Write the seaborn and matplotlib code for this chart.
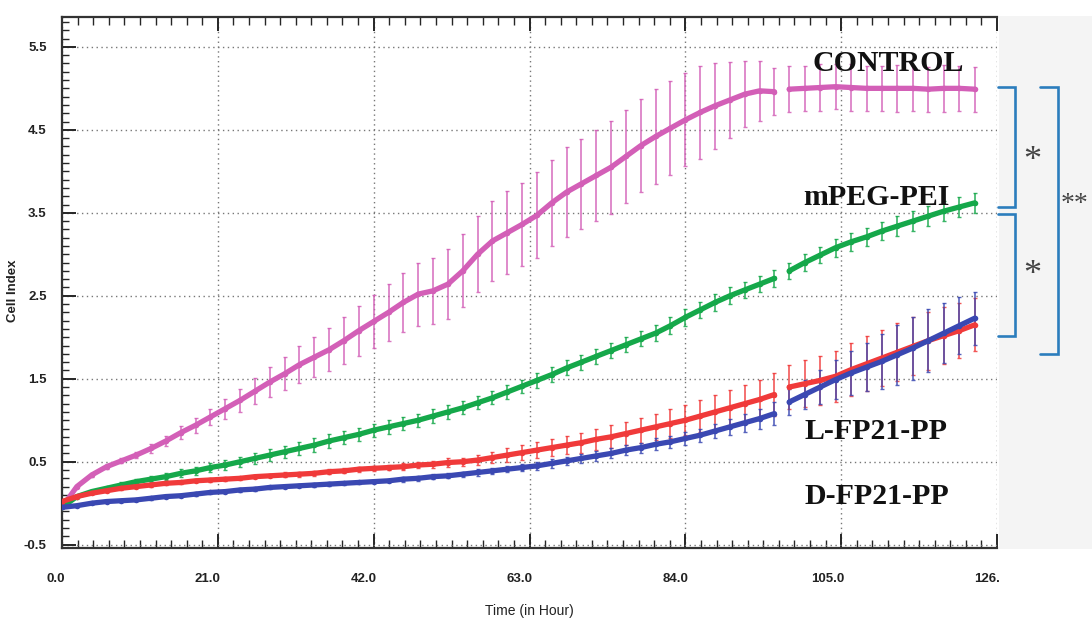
import numpy as np
import pandas as pd
import matplotlib
matplotlib.use("Agg")
import matplotlib.pyplot as plt
import matplotlib.transforms as mtransforms
from matplotlib.ticker import MultipleLocator, FixedLocator
from matplotlib.patches import Rectangle
import seaborn as sns

# ---------------- data ----------------
groups = ["CONTROL", "mPEG-PEI", "L-FP21-PP", "D-FP21-PP"]
colors = ["#d35fb7", "#15a84a", "#f03a3a", "#3a48b2"]

time_seg1 = list(range(0, 97, 2))                 # hours, before medium change
time_seg2 = list(np.linspace(98, 123, 13))         # hours, after medium change

control_mean = [-0.05, 0.20, 0.34, 0.44, 0.51, 0.58, 0.66, 0.75, 0.85, 0.94,
                1.04, 1.14, 1.24, 1.35, 1.46, 1.56, 1.67, 1.76, 1.85, 1.96,
                2.08, 2.19, 2.30, 2.42, 2.52, 2.56, 2.64, 2.80, 3.00, 3.16,
                3.26, 3.36, 3.47, 3.62, 3.75, 3.85, 3.95, 4.05, 4.18, 4.31,
                4.42, 4.52, 4.62, 4.71, 4.79, 4.86, 4.93, 4.97, 4.96,
                4.99, 5.00, 5.01, 5.02, 5.01, 5.00, 5.00, 5.00, 5.00, 4.99, 5.00, 5.00, 4.99]
control_sd = [0.00, 0.01, 0.02, 0.03, 0.03, 0.04, 0.05, 0.06, 0.08, 0.09,
              0.10, 0.12, 0.14, 0.16, 0.18, 0.20, 0.22, 0.24, 0.26, 0.28,
              0.30, 0.32, 0.34, 0.36, 0.38, 0.40, 0.42, 0.44, 0.46, 0.48,
              0.50, 0.50, 0.52, 0.52, 0.54, 0.54, 0.55, 0.56, 0.56, 0.56,
              0.57, 0.57, 0.56, 0.56, 0.52, 0.46, 0.40, 0.36, 0.28,
              0.28, 0.27, 0.28, 0.27, 0.28, 0.27, 0.27, 0.28, 0.27, 0.27, 0.28, 0.27, 0.27]

mpeg_mean = [-0.05, 0.08, 0.14, 0.18, 0.22, 0.26, 0.29, 0.32, 0.36, 0.39,
             0.43, 0.46, 0.50, 0.54, 0.58, 0.62, 0.66, 0.70, 0.75, 0.79,
             0.83, 0.88, 0.92, 0.96, 1.00, 1.05, 1.10, 1.15, 1.21, 1.27,
             1.34, 1.41, 1.48, 1.55, 1.63, 1.70, 1.77, 1.84, 1.91, 1.98,
             2.05, 2.14, 2.24, 2.33, 2.42, 2.50, 2.57, 2.64, 2.71,
             2.80, 2.90, 2.99, 3.08, 3.15, 3.21, 3.28, 3.34, 3.40, 3.46, 3.52, 3.57, 3.62]
mpeg_sd = [0.00, 0.01, 0.02, 0.02, 0.03, 0.03, 0.04, 0.04, 0.05, 0.05,
           0.05, 0.06, 0.06, 0.07, 0.07, 0.07, 0.08, 0.08, 0.08, 0.08,
           0.08, 0.08, 0.08, 0.08, 0.08, 0.08, 0.08, 0.08, 0.08, 0.08,
           0.08, 0.08, 0.09, 0.09, 0.09, 0.09, 0.09, 0.09, 0.09, 0.09,
           0.10, 0.10, 0.10, 0.10, 0.10, 0.10, 0.10, 0.10, 0.10,
           0.10, 0.10, 0.10, 0.11, 0.11, 0.11, 0.11, 0.12, 0.12, 0.12, 0.12, 0.12, 0.12]

lfp_mean = [0.02, 0.08, 0.12, 0.15, 0.18, 0.20, 0.22, 0.24, 0.25, 0.27,
            0.28, 0.29, 0.30, 0.32, 0.33, 0.34, 0.35, 0.36, 0.38, 0.39,
            0.41, 0.42, 0.43, 0.44, 0.46, 0.47, 0.49, 0.50, 0.52, 0.55,
            0.58, 0.61, 0.64, 0.67, 0.70, 0.73, 0.77, 0.80, 0.84, 0.88,
            0.92, 0.96, 1.00, 1.05, 1.10, 1.15, 1.20, 1.25, 1.31,
            1.40, 1.44, 1.48, 1.53, 1.61, 1.68, 1.75, 1.82, 1.89, 1.96, 2.02, 2.08, 2.15]
lfp_sd = [0.00, 0.01, 0.01, 0.01, 0.02, 0.02, 0.02, 0.02, 0.02, 0.02,
          0.02, 0.02, 0.02, 0.02, 0.02, 0.03, 0.03, 0.03, 0.03, 0.03,
          0.03, 0.03, 0.03, 0.04, 0.04, 0.04, 0.05, 0.05, 0.06, 0.07,
          0.08, 0.09, 0.10, 0.10, 0.11, 0.12, 0.13, 0.14, 0.14, 0.15,
          0.16, 0.17, 0.18, 0.19, 0.20, 0.21, 0.23, 0.24, 0.26,
          0.27, 0.28, 0.30, 0.31, 0.32, 0.33, 0.34, 0.35, 0.35, 0.35, 0.34, 0.33, 0.32]

dfp_mean = [-0.05, -0.03, 0.00, 0.02, 0.03, 0.04, 0.06, 0.08, 0.09, 0.11,
            0.13, 0.14, 0.16, 0.17, 0.19, 0.20, 0.21, 0.22, 0.23, 0.24,
            0.25, 0.26, 0.27, 0.29, 0.30, 0.32, 0.33, 0.35, 0.37, 0.39,
            0.41, 0.43, 0.45, 0.48, 0.51, 0.54, 0.57, 0.60, 0.64, 0.67,
            0.71, 0.74, 0.78, 0.82, 0.87, 0.92, 0.97, 1.02, 1.08,
            1.22, 1.31, 1.40, 1.49, 1.57, 1.64, 1.71, 1.79, 1.87, 1.96, 2.05, 2.14, 2.23]
dfp_sd = [0.00, 0.01, 0.01, 0.01, 0.01, 0.01, 0.02, 0.02, 0.02, 0.02,
          0.02, 0.02, 0.02, 0.02, 0.02, 0.02, 0.02, 0.02, 0.02, 0.02,
          0.02, 0.02, 0.02, 0.03, 0.03, 0.03, 0.03, 0.03, 0.04, 0.04,
          0.04, 0.04, 0.05, 0.05, 0.05, 0.05, 0.06, 0.06, 0.06, 0.06,
          0.07, 0.07, 0.08, 0.08, 0.09, 0.10, 0.11, 0.12, 0.14,
          0.16, 0.18, 0.21, 0.23, 0.26, 0.29, 0.33, 0.36, 0.38, 0.38, 0.36, 0.34, 0.32]

x_ticks = [0.0, 21.0, 42.0, 63.0, 84.0, 105.0, 126.0]
x_ticklabels = ["0.0", "21.0", "42.0", "63.0", "84.0", "105.0", "126."]
y_ticks = [-0.5, 0.5, 1.5, 2.5, 3.5, 4.5, 5.5]
y_ticklabels = ["-0.5", "0.5", "1.5", "2.5", "3.5", "4.5", "5.5"]

# ---------------- frame ----------------
means = [control_mean, mpeg_mean, lfp_mean, dfp_mean]
sds = [control_sd, mpeg_sd, lfp_sd, dfp_sd]
times = time_seg1 + time_seg2
segs = [0] * len(time_seg1) + [1] * len(time_seg2)
rows = []
for g, m, s in zip(groups, means, sds):
    for t, v, e, sg in zip(times, m, s, segs):
        rows.append({"group": g, "time": float(t), "value": v, "sd": e, "segment": sg})
df = pd.DataFrame(rows)

# ---------------- plot ----------------
sns.set_style("ticks")
plt.rcParams["font.family"] = ["Liberation Sans", "DejaVu Sans"]

fig = plt.figure(figsize=(10.92, 6.2), dpi=100)
ax = fig.add_axes([62 / 1092, 1 - 548 / 620, 935 / 1092, 531 / 620])

# light gray panel on the right
bg = Rectangle((999 / 1092, 1 - 549 / 620), 1 - 999 / 1092, 533 / 620,
               transform=fig.transFigure, facecolor="#f4f4f4",
               edgecolor="none", zorder=-10)
fig.patches.append(bg)

palette = dict(zip(groups, colors))
for g in groups:
    sub = df[df["group"] == g]
    ax.errorbar(sub["time"], sub["value"], yerr=sub["sd"], fmt="none",
                ecolor=palette[g], elinewidth=1.2, capsize=1.5, capthick=1.0,
                alpha=0.85, zorder=2)

sns.lineplot(data=df, x="time", y="value", hue="group", hue_order=groups,
             units="segment", estimator=None, palette=palette, legend=False,
             linewidth=3.8, marker="o", markersize=4, markeredgewidth=0,
             ax=ax, zorder=3)

ax.set_xlim(0, 126)
ax.set_ylim(-0.54, 5.86)

ax.xaxis.set_major_locator(FixedLocator(x_ticks))
ax.xaxis.set_minor_locator(MultipleLocator(2.1))
ax.yaxis.set_major_locator(FixedLocator(y_ticks))
ax.yaxis.set_minor_locator(MultipleLocator(0.1))
ax.set_xticklabels(x_ticklabels, fontsize=9.5, fontweight="bold", color="#222222")
ax.set_yticklabels(y_ticklabels, fontsize=9.5, fontweight="bold", color="#222222")
ax.tick_params(axis="x", which="major", direction="in", length=10, width=1.4,
               top=True, bottom=True, pad=18)
ax.tick_params(axis="x", which="minor", direction="in", length=6, width=1.0,
               top=True, bottom=True)
ax.tick_params(axis="y", which="major", direction="in", length=10, width=1.4,
               left=True, right=False, pad=11)
ax.tick_params(axis="y", which="minor", direction="in", length=5, width=1.0,
               left=True, right=False)

offset = mtransforms.ScaledTranslation(3 / 100, 0, fig.dpi_scale_trans)
for lab in ax.get_xticklabels():
    lab.set_horizontalalignment("right")
    lab.set_transform(lab.get_transform() + offset)

ax.grid(True, which="major", linestyle=(0, (1, 2.5)), color="#777777", linewidth=1.0)
for side in ["left", "bottom", "top"]:
    ax.spines[side].set_color("#333333")
    ax.spines[side].set_linewidth(1.6)
ax.spines["right"].set_visible(False)
ax.set_facecolor("white")

ax.set_ylabel("Cell Index", fontsize=9.5, fontweight="bold", color="#222222")
ax.yaxis.set_label_coords(-0.046, 0.484)
ax.set_xlabel("Time (in Hour)", fontsize=10, color="#222222", va="center")
ax.xaxis.set_label_coords(0.5, -0.118)

# group labels
serif = ["Liberation Serif", "DejaVu Serif"]
label_pos = {"CONTROL": (111.4, 5.30), "mPEG-PEI": (109.8, 3.69),
             "L-FP21-PP": (109.7, 0.86), "D-FP21-PP": (109.8, 0.08)}
for g in groups:
    x, y = label_pos[g]
    ax.text(x, y, g, ha="center", va="center", fontsize=21.5, fontweight="bold",
            family=serif, color="#111111", zorder=5)

# significance brackets
bt = mtransforms.blended_transform_factory(fig.transFigure, ax.transData)
bcol = "#2b7dbd"
def bracket(x0, x1, ytop, ybot):
    ax.plot([x0, x1, x1, x0], [ytop, ytop, ybot, ybot], color=bcol, lw=1.9,
            transform=bt, clip_on=False, solid_joinstyle="miter", zorder=6)

bracket(998 / 1092, 1015 / 1092, 5.02, 3.57)
bracket(998 / 1092, 1015 / 1092, 3.48, 2.01)
bracket(1040 / 1092, 1058 / 1092, 5.02, 1.80)
ax.text(1032 / 1092, 4.12, "*", transform=bt, ha="center", va="center",
        fontsize=26, family=serif, color="#444444", clip_on=False)
ax.text(1032 / 1092, 2.74, "*", transform=bt, ha="center", va="center",
        fontsize=26, family=serif, color="#444444", clip_on=False)
ax.text(1061 / 1092, 3.60, "**", transform=bt, ha="left", va="center",
        fontsize=20, family=serif, color="#444444", clip_on=False)

fig.savefig("out.png", dpi=100, facecolor="white")
